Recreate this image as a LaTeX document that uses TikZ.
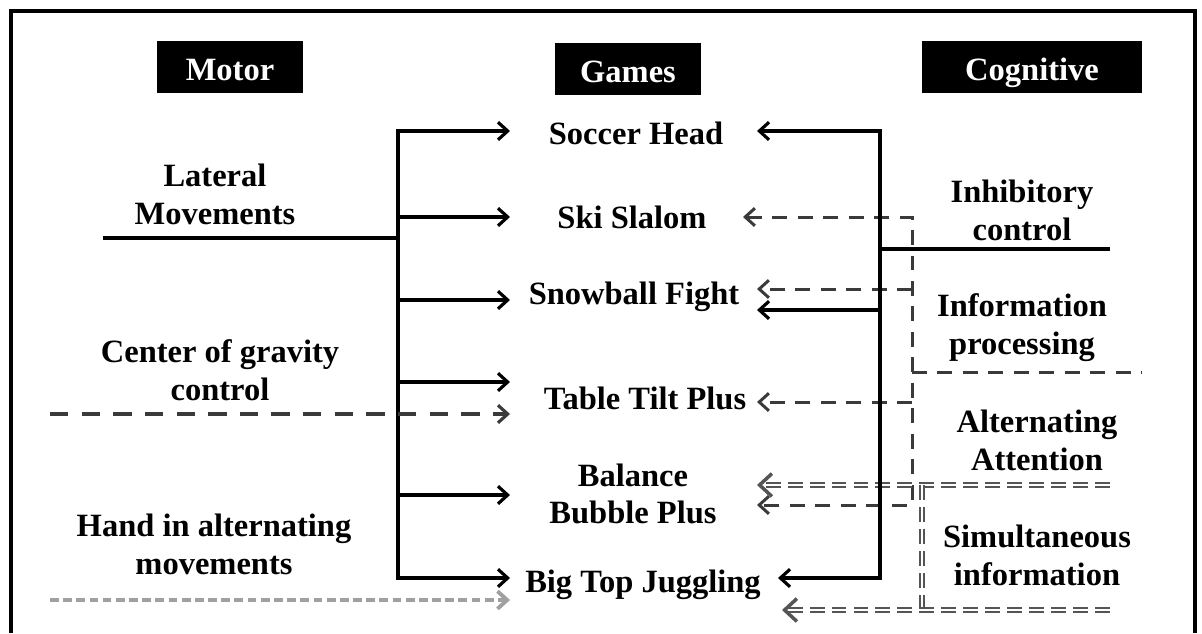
\documentclass[tikz,border=0pt]{standalone}
\usepackage{fontspec}
\setmainfont{Liberation Serif}
\usetikzlibrary{arrows.meta}

\definecolor{darkdash}{HTML}{3A3A3A}
\definecolor{lightdash}{HTML}{A0A0A0}
\definecolor{twindash}{HTML}{555555}

\tikzset{
    lbl/.style={align=center, inner sep=0pt, font=\fontsize{18.5}{21.5}\selectfont\bfseries},
    head/.style={lbl, fill=black, text=white, text height=22.5pt, text depth=7pt},
    solidarr/.style={line width=1.8pt, black},
    gravdash/.style={line width=1.8pt, darkdash, dash pattern=on 10.5pt off 7.5pt},
    infodash/.style={line width=1.7pt, darkdash, dash pattern=on 8.5pt off 6pt},
    handdash/.style={line width=2.2pt, lightdash, dash pattern=on 5pt off 2.5pt},
    twinline/.style={line width=0.9pt, twindash, double=white, double distance=1.2pt, dash pattern=on 8.5pt off 4pt},
    twintip/.style={-{Straight Barb[length=7pt,width=13pt,line width=2pt]}},
    >={Straight Barb[length=5.5pt,width=10pt]}
}

\begin{document}
\begin{tikzpicture}[x=0.02cm, y=-0.02cm]
        \useasboundingbox (0,0) rectangle (1202,633);
        \draw[line width=1.8pt] (11,633) -- (11,11) -- (1195,11) -- (1195,633);

        \node[head, minimum width=82.8pt] (motor) at (230,67) {Motor};
        \node[head, minimum width=82.8pt] (games) at (628,69) {Games};
        \node[head, minimum width=124.7pt] (cognitive) at (1032,67) {Cognitive};

        \node[lbl] (soccer) at (636,133) {Soccer Head};
        \node[lbl] (ski) at (632,217) {Ski Slalom};
        \node[lbl] (snowball) at (634,297) {Snowball Fight};
        \node[lbl] (tilt) at (645,398) {Table Tilt Plus};
        \node[lbl] (bubble) at (633,494) {Balance\\Bubble Plus};
        \node[lbl] (juggling) at (643,585) {Big Top Juggling};

        \node[lbl] (lateral) at (215,194) {Lateral\\Movements};
        \node[lbl] (gravity) at (220,370) {Center of gravity\\control};
        \node[lbl] (hand) at (214,544) {Hand in alternating\\movements};

        \node[lbl] (inhibitory) at (1022,210) {Inhibitory\\control};
        \node[lbl] (information) at (1022,328) {Information\\processing};
        \node[lbl] (alternating) at (1037,440) {Alternating\\Attention};
        \node[lbl] (simultaneous) at (1037,555) {Simultaneous\\information};

        \coordinate (gin) at (510,0);
        \coordinate (gout) at (757,0);
        \coordinate (gski) at (743,0);
        \coordinate (gbig) at (778,0);
        \coordinate (gbig2) at (782,0);

        \coordinate (mb1) at (398,131);
        \coordinate (mb2) at (398,217);
        \coordinate (mb3) at (398,300);
        \coordinate (mb4) at (398,382);
        \coordinate (mb5) at (398,495);
        \coordinate (mb6) at (398,578);
        \coordinate (mbl) at (398,238);
        \coordinate (latend) at (103,238);
        \coordinate (gravstart) at (50,414);
        \coordinate (handstart) at (50,600);

        \coordinate (cb1) at (880,131);
        \coordinate (cb2) at (880,310);
        \coordinate (cb3) at (880,578);
        \coordinate (cbi) at (880,249);
        \coordinate (inhend) at (1110,249);

        \coordinate (ib1) at (912,217);
        \coordinate (ib2) at (912,289);
        \coordinate (ib3) at (912,402);
        \coordinate (ib4) at (912,505);
        \coordinate (ibi) at (912,372);
        \coordinate (infend) at (1142,372);

        \coordinate (ab1) at (922,485);
        \coordinate (ab2) at (922,610);
        \coordinate (altend) at (1110,485);
        \coordinate (simend) at (1110,610);

        \draw[solidarr, <->] (mb1 -| gin) -- (mb1) -- (mb6) -- (mb6 -| gin);
        \foreach \m in {mb2,mb3,mb4,mb5}
            \draw[solidarr, ->] (\m) -- (\m -| gin);
        \draw[solidarr] (latend) -- (mbl);
        \draw[gravdash, ->] (gravstart) -- (gravstart -| gin);
        \draw[handdash, ->] (handstart) -- (handstart -| gin);

        \draw[infodash, <->] (ib1 -| gski) -- (ib1) -- (ib4) -- (ib4 -| gout);
        \draw[infodash, ->] (ib2) -- (ib2 -| gout);
        \draw[infodash, ->] (ib3) -- (ib3 -| gout);
        \draw[infodash] (ibi) -- (infend);

        \draw[twinline, twintip] (altend) -- (altend -| gout);
        \draw[twinline] (ab1) -- (ab2);
        \draw[twinline, twintip] (simend) -- (simend -| gbig2);

        \draw[solidarr, <->] (cb1 -| gout) -- (cb1) -- (cb3) -- (cb3 -| gbig);
        \draw[solidarr, ->] (cb2) -- (cb2 -| gout);
        \draw[solidarr] (cbi) -- (inhend);
    \end{tikzpicture}
\end{document}
